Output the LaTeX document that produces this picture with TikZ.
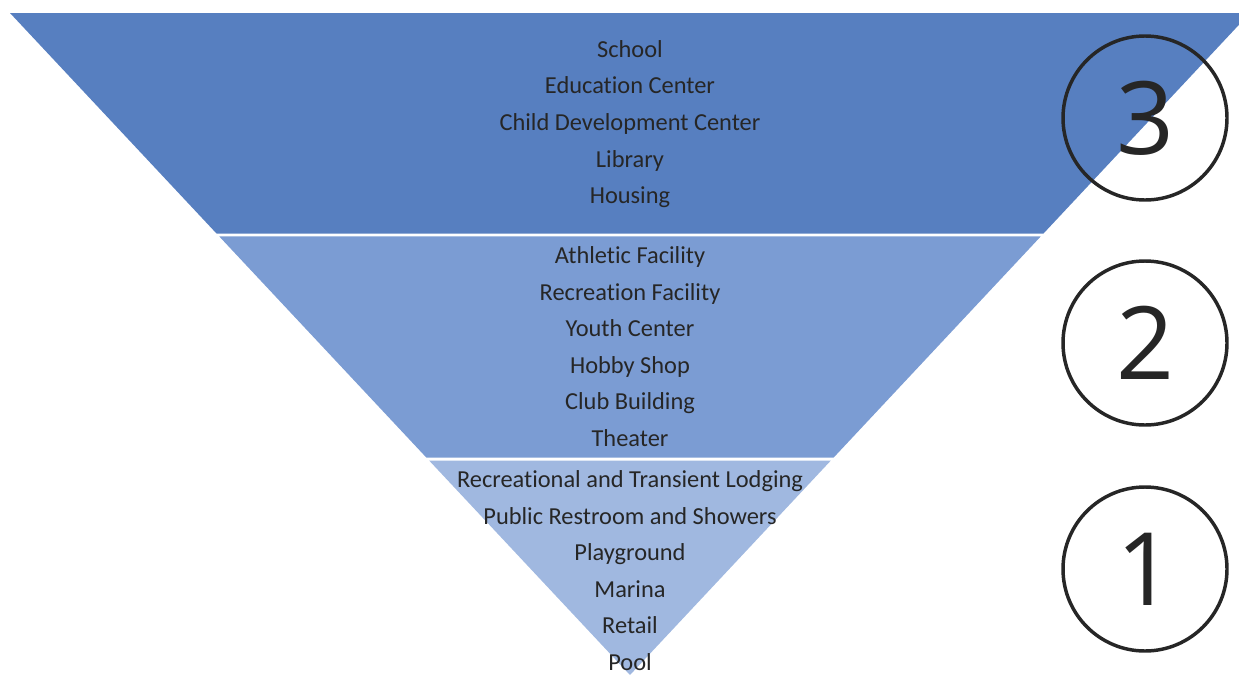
\documentclass[tikz,border=0pt]{standalone}
\usepackage{fontspec}
\setmainfont{Carlito}[Ligatures=NoCommon]
\newfontfamily\digitfont{Open Sans}
\usetikzlibrary{calc}
\usetikzlibrary{positioning}
\definecolor{tierthree}{HTML}{577FC0}
\definecolor{tiertwo}{HTML}{7B9CD3}
\definecolor{tierone}{HTML}{A0B8E0}
\definecolor{ink}{HTML}{262626}
\tikzset{
  item/.style={text=ink, font=\fontsize{18.3pt}{22pt}\selectfont, inner sep=0pt, anchor=base},
  level/.style={circle, draw=ink, line width=2.6pt, minimum size=123pt, inner sep=0pt,
    text=ink, font=\digitfont\fontsize{76pt}{80pt}\selectfont}
}

\begin{document}
\begin{tikzpicture}[x=0.75pt, y=-0.75pt]
  \useasboundingbox (0,0) rectangle (1239,675);

  \coordinate (TL) at (10,13);
  \coordinate (TR) at (1250,13);
  \coordinate (A)  at (630,675);

  % three bands with a thin white gap between them
  \fill[tierthree] (TL) -- (TR) -- ($(TR)!0.3331!(A)$) -- ($(TL)!0.3331!(A)$) -- cycle;
  \fill[tiertwo] ($(TL)!0.3376!(A)$) -- ($(TR)!0.3376!(A)$) -- ($(TR)!0.6715!(A)$) -- ($(TL)!0.6715!(A)$) -- cycle;
  \fill[tierone] ($(TL)!0.6760!(A)$) -- ($(TR)!0.6760!(A)$) -- (A) -- cycle;

  \foreach \txt [count=\i] in {School, Education Center, Child Development Center, Library, Housing}
    \node[item] (T\i) at (630,{57+36.7*(\i-1)}) {\txt};
  \foreach \txt [count=\i] in {Athletic Facility, Recreation Facility, Youth Center, Hobby Shop, Club Building, Theater}
    \node[item] (M\i) at (630,{263.5+36.6*(\i-1)}) {\txt};
  \foreach \txt [count=\i] in {Recreational and Transient Lodging, Public Restroom and Showers, Playground, Marina, Retail, Pool}
    \node[item] (B\i) at (630,{487.5+36.6*(\i-1)}) {\txt};

  \node[level] (L3) at (1145,118) {3};
  \node[level] (L2) at (1145,343) {2};
  \node[level] (L1) at (1145,569) {1};
\end{tikzpicture}
\end{document}
